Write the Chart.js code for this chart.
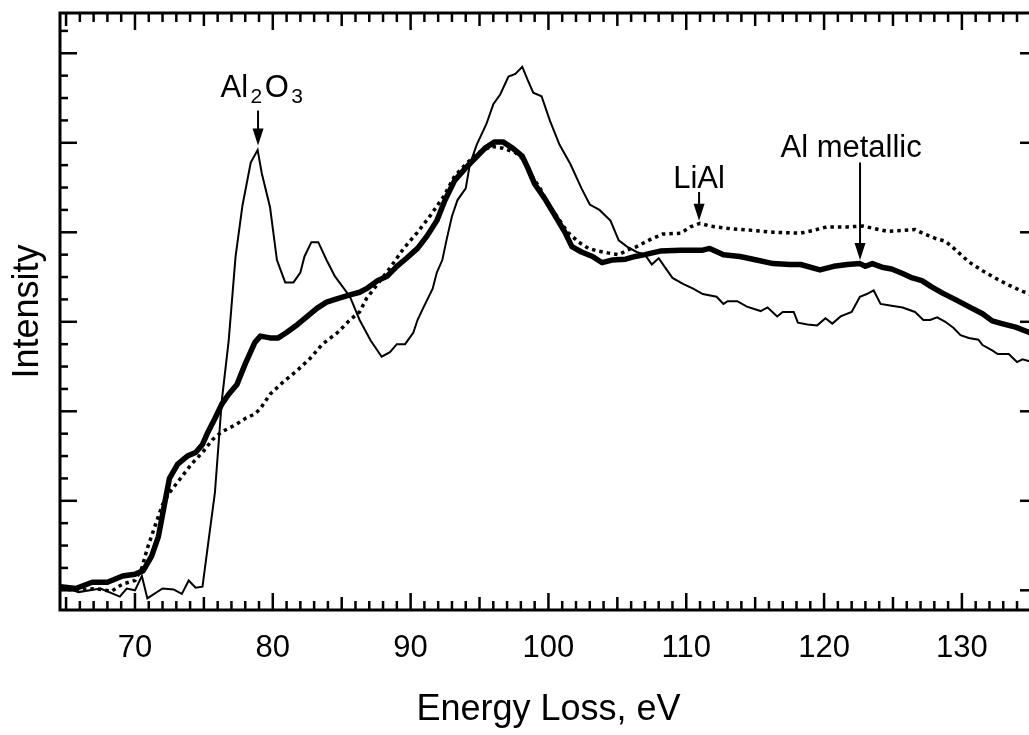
<!DOCTYPE html>
<html><head><meta charset="utf-8">
<script src="https://cdn.jsdelivr.net/npm/chart.js@4/dist/chart.umd.min.js"></script>
<style>
html,body{margin:0;padding:0;background:#fff;overflow:hidden;width:1029px;height:735px;}
#wrap{position:absolute;left:0;top:0;width:1045px;height:735px;}
</style></head>
<body><div id="wrap"><canvas id="c" width="1045" height="735"></canvas></div>
<script>
// ---- data ----
const xTickLabels = [70, 80, 90, 100, 110, 120, 130];

const al2o3Energy = [64.8,65.9,67.5,68.9,69.4,70.0,70.5,70.9,72.0,72.8,73.4,73.9,74.4,74.9,75.3,75.8,76.3,76.8,77.3,77.8,78.4,78.9,79.2,79.8,80.3,80.9,81.5,82.0,82.3,82.8,83.3,83.9,84.5,85.6,86.3,87.1,87.9,88.5,89.0,89.6,90.2,90.5,90.9,91.6,91.9,92.3,92.6,93.0,93.4,94.0,94.3,94.8,95.5,96.0,96.5,97.1,97.6,98.1,98.5,98.9,99.5,100.1,100.8,101.6,102.4,103.0,103.7,104.5,105.1,105.7,106.4,107.0,107.5,108.0,108.5,109.0,109.8,110.5,111.2,112.2,112.7,113.0,113.7,114.4,115.4,115.9,116.6,117.0,117.8,118.1,118.8,119.5,120.1,120.6,121.2,122.0,122.6,123.1,123.6,124.1,124.9,125.7,126.6,127.2,127.7,128.2,128.8,129.4,129.9,130.5,131.2,131.5,132.2,132.6,133.4,134.0,134.4,134.9,135.5];
const al2o3Intensity = [0.04,-0.02,0.02,-0.07,0.02,0.00,0.16,-0.09,0.02,0.01,-0.04,0.11,0.03,0.04,0.51,1.09,2.12,2.79,3.73,4.30,4.78,4.92,4.66,4.28,3.69,3.44,3.44,3.55,3.73,3.89,3.89,3.69,3.51,3.28,3.02,2.79,2.61,2.66,2.75,2.75,2.88,3.02,3.15,3.37,3.55,3.69,3.91,4.18,4.36,4.49,4.76,4.98,5.21,5.43,5.54,5.74,5.77,5.85,5.70,5.56,5.52,5.25,4.98,4.76,4.49,4.31,4.25,4.13,3.91,3.84,3.78,3.75,3.64,3.71,3.60,3.49,3.42,3.37,3.31,3.28,3.20,3.23,3.23,3.17,3.12,3.16,3.06,3.11,3.11,2.99,2.97,2.96,3.04,2.98,3.06,3.11,3.28,3.31,3.35,3.20,3.18,3.16,3.11,3.02,3.02,3.05,3.00,2.93,2.85,2.82,2.80,2.74,2.68,2.64,2.64,2.55,2.58,2.56,2.52];

const sampleEnergy = [64.6,65.7,66.9,68.0,69.1,70.0,70.6,71.2,71.7,72.2,72.5,73.1,73.8,74.4,74.9,75.3,75.8,76.3,76.8,77.4,78.0,78.7,79.1,79.8,80.4,81.0,81.8,82.5,83.2,83.9,84.7,85.6,86.3,86.8,87.6,88.3,89.0,89.7,90.5,91.2,91.9,92.5,93.2,94.0,94.7,95.4,96.1,96.7,97.4,98.1,98.5,99.0,99.8,100.5,101.2,101.7,102.4,103.2,103.9,104.6,105.6,106.3,107.0,108.1,109.6,111.2,111.7,112.7,113.9,115.1,116.3,117.5,118.3,119.7,120.7,121.7,122.6,123.0,123.5,124.2,124.9,125.7,126.4,127.1,127.8,128.6,129.5,130.5,131.5,132.2,132.9,133.9,134.9,135.5];
const sampleIntensity = [0.04,0.02,0.09,0.09,0.16,0.18,0.22,0.38,0.60,1.01,1.25,1.41,1.50,1.54,1.63,1.77,1.92,2.08,2.19,2.30,2.53,2.77,2.84,2.82,2.82,2.88,2.97,3.06,3.15,3.22,3.26,3.30,3.33,3.37,3.46,3.51,3.62,3.71,3.82,3.96,4.13,4.36,4.58,4.72,4.83,4.94,5.01,5.01,4.94,4.85,4.72,4.54,4.36,4.18,4.00,3.84,3.78,3.73,3.66,3.69,3.70,3.73,3.75,3.79,3.80,3.80,3.82,3.75,3.73,3.69,3.65,3.64,3.64,3.58,3.62,3.64,3.65,3.62,3.65,3.61,3.59,3.54,3.49,3.46,3.39,3.32,3.25,3.17,3.09,3.01,2.98,2.94,2.88,2.85];

const lialEnergy = [64.6,65.7,67.1,68.3,69.1,70.0,70.5,70.9,71.5,72.0,72.5,73.4,74.1,74.9,75.6,76.3,77.3,78.0,78.7,79.1,79.8,80.7,81.8,82.7,83.6,84.7,85.6,86.3,86.8,87.6,88.5,89.5,90.5,91.4,92.4,93.2,94.0,94.9,95.9,96.7,97.6,98.3,98.8,99.4,100.0,100.7,101.4,102.2,102.9,103.6,104.3,105.1,105.7,106.4,107.4,108.3,109.6,110.3,111.0,111.7,113.2,114.9,116.3,118.3,119.2,120.2,121.7,122.8,123.7,124.6,125.7,126.6,127.3,128.1,128.8,129.5,130.5,131.5,132.4,133.4,134.4,134.9,135.5];
const lialIntensity = [0.02,0.00,0.02,-0.01,0.07,0.11,0.25,0.47,0.74,0.96,1.09,1.27,1.41,1.54,1.68,1.77,1.85,1.92,1.97,2.03,2.19,2.32,2.46,2.59,2.75,2.88,3.02,3.11,3.26,3.42,3.60,3.82,4.00,4.18,4.40,4.63,4.76,4.89,4.96,4.94,4.89,4.80,4.63,4.49,4.31,4.16,4.00,3.89,3.82,3.79,3.77,3.75,3.80,3.84,3.92,3.98,3.99,4.06,4.10,4.07,4.04,4.02,4.00,3.99,4.02,4.06,4.06,4.07,4.04,4.01,4.02,4.03,3.98,3.93,3.90,3.81,3.67,3.57,3.49,3.41,3.34,3.31,3.27];

// ---- annotations (label text, arrow) ----
const annotationLabels = [
  { parts: [['Al', 0], ['2', 1], ['O', 0], ['3', 1]], textX: 79.2, textY: 5.51, arrowX: 78.93, arrowFrom: 5.36, arrowTo: 4.97 },
  { parts: [['LiAl', 0]], textX: 110.93, textY: 4.50, arrowX: 110.93, arrowFrom: 4.45, arrowTo: 4.13 },
  { parts: [['Al metallic', 0]], textX: 121.96, textY: 4.84, arrowX: 122.61, arrowFrom: 4.78, arrowTo: 3.69 }
];

const FONT = "'Liberation Sans', Arial, Helvetica, sans-serif";
const zip = (xs, ys) => xs.map((x, i) => ({ x, y: ys[i] }));

const decorPlugin = {
  id: 'decor',
  afterDraw(chart) {
    const { ctx, chartArea: a, scales: { x, y } } = chart;
    ctx.save();
    ctx.strokeStyle = '#000';
    ctx.fillStyle = '#000';
    ctx.lineCap = 'butt';
    const seg = (x1, y1, x2, y2) => { ctx.beginPath(); ctx.moveTo(x1, y1); ctx.lineTo(x2, y2); ctx.stroke(); };
    // x ticks (bottom & top, inward)
    ctx.lineWidth = 2.5;
    for (let v = Math.ceil(x.min); v <= Math.floor(x.max); v++) {
      const px = x.getPixelForValue(v);
      const len = v % 10 === 0 ? 17 : (v % 5 === 0 ? 13 : 9);
      seg(px, a.bottom, px, a.bottom - len);
      seg(px, a.top, px, a.top + len);
    }
    // y ticks (left & right, inward)
    for (let k = 0; k / 4 <= y.max; k++) {
      const py = y.getPixelForValue(k / 4);
      const len = k % 4 === 0 ? 17 : 8;
      seg(a.left, py, a.left + len, py);
      seg(a.right, py, a.right - len, py);
    }
    // frame
    ctx.lineWidth = 3;
    ctx.strokeRect(a.left, a.top, a.right - a.left, a.bottom - a.top);
    // annotations
    ctx.textBaseline = 'alphabetic';
    ctx.textAlign = 'left';
    for (const an of annotationLabels) {
      const fonts = ['31px ' + FONT, '21px ' + FONT];
      let total = 0;
      const widths = an.parts.map(([t, sub], i) => {
        ctx.font = fonts[sub];
        const w = ctx.measureText(t).width + (an.parts.length > 1 && i < an.parts.length - 1 ? 2.5 : 0);
        total += w; return w;
      });
      let cx = x.getPixelForValue(an.textX) - total / 2;
      const base = y.getPixelForValue(an.textY);
      an.parts.forEach(([t, sub], i) => {
        ctx.font = fonts[sub];
        ctx.fillText(t, cx, base + (sub ? 6 : 0));
        cx += widths[i];
      });
      const ax = x.getPixelForValue(an.arrowX);
      const y1 = y.getPixelForValue(an.arrowFrom);
      const y2 = y.getPixelForValue(an.arrowTo);
      ctx.lineWidth = 2;
      seg(ax, y1, ax, y2 - 14);
      ctx.beginPath();
      ctx.moveTo(ax, y2);
      ctx.lineTo(ax - 5.5, y2 - 17);
      ctx.lineTo(ax + 5.5, y2 - 17);
      ctx.closePath();
      ctx.fill();
    }
    ctx.restore();
  }
};

new Chart(document.getElementById('c'), {
  type: 'line',
  data: {
    datasets: [
      { label: 'Al2O3', data: zip(al2o3Energy, al2o3Intensity), borderColor: '#000', borderWidth: 2, pointRadius: 0, tension: 0, fill: false },
      { label: 'Sample', data: zip(sampleEnergy, sampleIntensity), borderColor: '#000', borderWidth: 5.5, pointRadius: 0, tension: 0, fill: false, borderJoinStyle: 'round', borderCapStyle: 'round' },
      { label: 'LiAl', data: zip(lialEnergy, lialIntensity), borderColor: '#000', borderWidth: 3.5, borderDash: [3.5, 4], pointRadius: 0, tension: 0, fill: false }
    ]
  },
  options: {
    responsive: false,
    animation: false,
    devicePixelRatio: 1,
    layout: { padding: { top: 13, right: 8, left: 0, bottom: 0 } },
    plugins: { legend: { display: false }, tooltip: { enabled: false } },
    scales: {
      x: {
        type: 'linear', min: 64.56, max: 135.45,
        grid: { display: false, drawTicks: false },
        border: { display: false },
        afterBuildTicks: (s) => { s.ticks = xTickLabels.map(v => ({ value: v })); },
        afterFit: (s) => { s.height = 125; },
        ticks: { autoSkip: false, maxRotation: 0, padding: 20, color: '#000', font: { family: FONT, size: 31 } },
        title: { display: true, text: 'Energy Loss, eV', color: '#000', font: { family: FONT, size: 36 }, padding: { top: 0, bottom: 3 } }
      },
      y: {
        type: 'linear', min: -0.22, max: 6.45,
        grid: { display: false, drawTicks: false },
        border: { display: false },
        afterFit: (s) => { s.width = 60; },
        ticks: { display: false },
        title: { display: true, text: 'Intensity', color: '#000', font: { family: FONT, size: 36 }, padding: { top: 6, bottom: 0 } }
      }
    }
  },
  plugins: [decorPlugin]
});
</script></body></html>
